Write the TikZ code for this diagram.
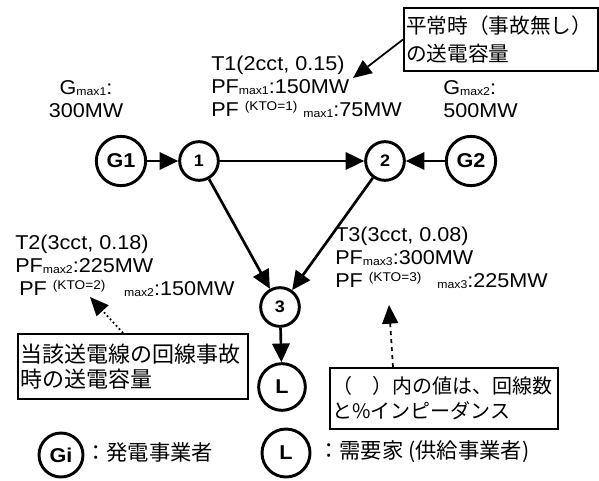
\documentclass[tikz,border=0pt]{standalone}
\usepackage{fontspec}
\setmainfont{Liberation Sans}[FakeStretch=1.08]
\newfontfamily\jpfont{Noto Sans CJK JP}
\usetikzlibrary{arrows.meta}
\newcommand\subtx[1]{\raisebox{-1.2pt}{\fontsize{8.5}{9}\selectfont #1}}
\newcommand\suptx[1]{\raisebox{4.5pt}{\fontsize{9.5}{10}\selectfont #1}}

\begin{document}
\begin{tikzpicture}[x=0.75pt, y=-0.75pt,
		bus/.style={circle, draw, line width=2.2pt, minimum size=29pt, inner sep=0pt, font=\bfseries\fontsize{12.5}{12.5}\selectfont},
		gen/.style={bus, minimum size=37pt, font=\bfseries\fontsize{15}{15}\selectfont},
		flow/.style={line width=2pt, -{Triangle[length=14pt, width=13pt]}},
		txt/.style={align=left, inner sep=0pt, font=\fontsize{15}{17.25}\selectfont},
		note/.style={draw, line width=1.5pt, anchor=north west, align=left, inner xsep=1.5pt, inner ysep=0pt, font=\jpfont\fontsize{15.5}{21}\selectfont},
		hint/.style={line width=1.3pt, -{Triangle[length=14pt, width=12pt]}}]
	\useasboundingbox (0,0) rectangle (599,481);
	\node[gen] (g1) at (121,161) {G1};
	\node[bus] (n1) at (199,161) {1};
	\node[bus] (n2) at (385,161) {2};
	\node[gen] (g2) at (471,161) {G2};
	\node[bus] (n3) at (280,307) {3};
	\node[gen, minimum size=35pt] (ld) at (282,387) {L};
	\draw[flow] (g1) -- (n1);
	\draw[flow] (n1) -- (n2);
	\draw[flow] (g2) -- (n2);
	\draw[flow] (n1) -- (n3);
	\draw[flow] (n2) -- (n3);
	\draw[flow] (n3) -- (ld);
	\node[txt, align=center] (gm1) at (86,99) {G\subtx{max1}:\\300MW};
	\node[txt, anchor=west] (t1) at (211,87) {T1(2cct, 0.15)\\PF\subtx{max1}:150MW\\PF \suptx{(KTO=1)} \subtx{max1}:75MW};
	\node[txt, anchor=west] (gm2) at (443,99) {G\subtx{max2}:\\500MW};
	\node[txt, anchor=west] (t2) at (15,266) {T2(3cct, 0.18)\\PF\subtx{max2}:225MW\\\hspace*{3pt}PF \suptx{(KTO=2)}\hspace{14pt}\subtx{max2}:150MW};
	\node[txt, anchor=west] (t3) at (335,258) {T3(3cct, 0.08)\\PF\subtx{max3}:300MW\\PF \suptx{(KTO=3)}\hspace{12pt}\subtx{max3}:225MW};
	\node[note, text width=142.5pt, minimum height=47.25pt] (bx1) at (403,7) {平常時（事故無し）\\の送電容量};
	\node[note, text width=169.5pt, minimum height=48.75pt, font=\jpfont\fontsize{16.5}{18.75}\selectfont] (bx2) at (17,333) {当該送電線の回線事故\\時の送電容量};
	\node[note, text width=168pt, minimum height=45.75pt, font=\jpfont\fontsize{15}{18.75}\selectfont] (bx3) at (329,367) {（　）内の値は、回線数\\と\%インピーダンス};
	\coordinate (p1) at (353,78);
	\coordinate (p2) at (90,297);
	\coordinate (p3) at (389,305);
	\draw[hint] (bx1.west) -- (p1);
	\draw[hint, dotted] ([xshift=-7.5pt]bx2.north) -- (p2);
	\draw[hint, dashed] ([xshift=-38.25pt]bx3.north) -- (p3);
	\node[gen, minimum size=33pt] (lg1) at (61,455) {Gi};
	\node[anchor=west, inner sep=0pt, font=\jpfont\fontsize{16}{16}\selectfont] (lt1) at (85,452) {：発電事業者};
	\node[gen, minimum size=36pt] (lg2) at (286,453) {L};
	\node[anchor=west, inner sep=0pt, font=\jpfont\fontsize{16}{16}\selectfont] (lt2) at (318,452) {：需要家 (供給事業者)};
\end{tikzpicture}
\end{document}
